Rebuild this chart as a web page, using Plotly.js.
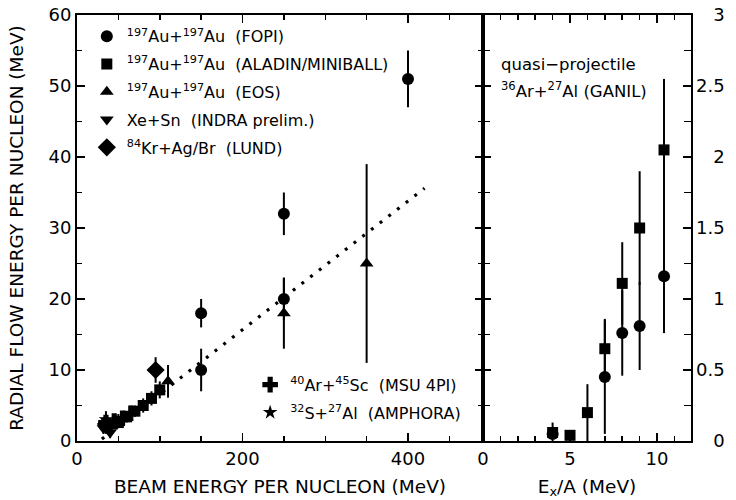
<!DOCTYPE html>
<html>
<head>
<meta charset="utf-8">
<script src="https://cdn.plot.ly/plotly-3.0.1.min.js"></script>
<style>html,body{margin:0;padding:0;background:#fff;}#chart{width:736px;height:500px;}</style>
</head>
<body>
<div id="chart"></div>
<script>
// ---- Left panel: radial flow energy vs beam energy ----
var fopiX = [150, 150, 250, 250, 400];
var fopiY = [10, 18, 20, 32, 51];
var fopiErr = [3, 2, 3, 3, 4];

var aladinX = [50, 60, 70, 80, 90, 100];
var aladinY = [2.6, 3.4, 4.2, 5.0, 6.0, 7.2];
var aladinErr = [0.8, 0.8, 0.8, 1.0, 1.0, 1.2];

var eosX = [110, 250, 350];
var eosY = [8.4, 18, 25];
var eosErr = [2.3, 5, 14];

var indraX = [32, 40, 45, 50];
var indraY = [1.8, 1.2, 2.6, 3.0];
var indraErr = [0.8, 0.8, 0.8, 0.8];

var lundX = [35, 95];
var lundY = [2.4, 10];
var lundErr = [1.0, 1.8];

var msuX = [35, 40, 45, 55, 65];
var msuY = [2.6, 2.0, 2.8, 3.2, 3.9];
var msuErr = [1.6, 1.2, 1.0, 0.8, 0.8];

var amphoraX = [35];
var amphoraY = [3.0];

var fitX = [30, 420];
var fitY = [0.27, 35.6];

// ---- Right panel: quasi-projectile 36Ar+27Al (GANIL) ----
var ganilCircX = [4, 7, 8, 9, 10.4];
var ganilCircY = [0.05, 0.45, 0.76, 0.81, 1.16];
var ganilCircErr = [0.08, 0.4, 0.3, 0.31, 0.4];

var ganilSqX = [4, 5, 6, 7, 8, 9, 10.4];
var ganilSqY = [0.06, 0.04, 0.2, 0.65, 1.11, 1.5, 2.05];
var ganilSqErr = [0, 0, 0.2, 0.21, 0.29, 0.4, 0.5];

var rightTickVals = [0, 0.5, 1, 1.5, 2, 2.5, 3];
var rightTickText = ['\u2007\u20080', '0.5', '\u2007\u20081', '1.5', '\u2007\u20082', '2.5', '\u2007\u20083'];

var FONT = 'DejaVu Sans, Arial, sans-serif';
var sp = '\u00a0\u00a0';

function eb(arr) {
  return {type: 'data', array: arr, visible: true, thickness: 2, width: 0, color: '#000'};
}
function mk(sym, size) {
  return {symbol: sym, size: size, color: '#000', line: {width: 0}};
}

var traces = [
  {x: fitX, y: fitY, mode: 'lines', line: {color: '#000', width: 3.2, dash: '3px,8px'}, showlegend: false, hoverinfo: 'skip'},
  {x: fopiX, y: fopiY, error_y: eb(fopiErr), mode: 'markers', marker: mk('circle', 12),
   name: '<sup>197</sup>Au+<sup>197</sup>Au' + sp + '(FOPI)', legendgroup: 'g1', legend: 'legend'},
  {x: aladinX, y: aladinY, error_y: eb(aladinErr), mode: 'markers', marker: mk('square', 11),
   name: '<sup>197</sup>Au+<sup>197</sup>Au' + sp + '(ALADIN/MINIBALL)', legendgroup: 'g2', legend: 'legend'},
  {x: eosX, y: eosY, error_y: eb(eosErr), mode: 'markers', marker: mk('triangle-up', 12),
   name: '<sup>197</sup>Au+<sup>197</sup>Au' + sp + '(EOS)', legendgroup: 'g3', legend: 'legend'},
  {x: indraX, y: indraY, error_y: eb(indraErr), mode: 'markers', marker: mk('triangle-down', 12),
   name: 'Xe+Sn' + sp + '(INDRA prelim.)', legendgroup: 'g4', legend: 'legend'},
  {x: lundX, y: lundY, error_y: eb(lundErr), mode: 'markers', marker: mk('diamond', 14),
   name: '<sup>84</sup>Kr+Ag/Br' + sp + '(LUND)', legendgroup: 'g5', legend: 'legend'},
  {x: msuX, y: msuY, error_y: eb(msuErr), mode: 'markers', marker: mk('cross', 13),
   name: '<sup>40</sup>Ar+<sup>45</sup>Sc' + sp + '(MSU 4PI)', legendgroup: 'h1', legend: 'legend2'},
  {x: amphoraX, y: amphoraY, mode: 'markers', marker: mk('star', 11),
   name: '<sup>32</sup>S+<sup>27</sup>Al' + sp + '(AMPHORA)', legendgroup: 'h2', legend: 'legend2'},
  {x: ganilCircX, y: ganilCircY, error_y: eb(ganilCircErr), mode: 'markers', marker: mk('circle', 12),
   xaxis: 'x2', yaxis: 'y2', showlegend: false},
  {x: ganilSqX, y: ganilSqY, error_y: eb(ganilSqErr), mode: 'markers', marker: mk('square', 11),
   xaxis: 'x2', yaxis: 'y2', showlegend: false}
];

var axBase = {
  showline: true, linecolor: '#000', linewidth: 2, mirror: 'ticks',
  ticks: 'inside', ticklen: 8, tickwidth: 1.5, tickcolor: '#000',
  showgrid: false, zeroline: false,
  tickfont: {family: FONT, size: 18, color: '#000'}
};

var legendBase = {
  font: {family: FONT, size: 16, color: '#000'},
  bgcolor: 'rgba(0,0,0,0)', borderwidth: 0,
  traceorder: 'grouped', tracegroupgap: 4,
  xanchor: 'left', yanchor: 'top'
};

var layout = {
  width: 736, height: 500,
  margin: {l: 77, r: 45, t: 15, b: 59},
  paper_bgcolor: '#fff', plot_bgcolor: '#fff',
  font: {family: FONT, color: '#000'},
  xaxis: Object.assign({}, axBase, {
    domain: [0, 0.6612], range: [0, 490.6], dtick: 200, tick0: 0,
    minor: {dtick: 50, ticks: 'inside', ticklen: 5, tickwidth: 1.5, tickcolor: '#000'},
    title: {text: 'BEAM ENERGY PER NUCLEON (MeV)', font: {family: FONT, size: 18.5, color: '#000'}, standoff: 12}
  }),
  yaxis: Object.assign({}, axBase, {
    range: [0, 60], dtick: 10, tick0: 0,
    minor: {dtick: 5, ticks: 'inside', ticklen: 5, tickwidth: 1.5, tickcolor: '#000'},
    title: {text: 'RADIAL FLOW ENERGY PER NUCLEON (MeV)', font: {family: FONT, size: 18.5, color: '#000'}, standoff: 20}
  }),
  xaxis2: Object.assign({}, axBase, {
    domain: [0.6612, 1], range: [0, 11.95], dtick: 5, tick0: 0, anchor: 'y2',
    minor: {dtick: 1, ticks: 'inside', ticklen: 5, tickwidth: 1.5, tickcolor: '#000'},
    title: {text: 'E<sub>x</sub>/A (MeV)', font: {family: FONT, size: 18.5, color: '#000'}, standoff: 12}
  }),
  yaxis2: Object.assign({}, axBase, {
    range: [0, 3], anchor: 'x2', side: 'right', linewidth: 1.5,
    tickmode: 'array', tickvals: rightTickVals, ticktext: rightTickText,
    minor: {dtick: 0.25, ticks: 'inside', ticklen: 7, tickwidth: 1.5, tickcolor: '#000'}
  }),
  legend: Object.assign({}, legendBase, {x: 0.016, y: 0.99}),
  legend2: Object.assign({}, legendBase, {x: 0.282, y: 0.172}),
  annotations: [
    {xref: 'paper', yref: 'paper', x: 0.687, y: 0.883, xanchor: 'left', yanchor: 'middle', showarrow: false,
     text: 'quasi\u2212projectile', font: {family: FONT, size: 16.5, color: '#000'}},
    {xref: 'paper', yref: 'paper', x: 0.687, y: 0.824, xanchor: 'left', yanchor: 'middle', showarrow: false,
     text: '<sup>36</sup>Ar+<sup>27</sup>Al (GANIL)', font: {family: FONT, size: 16.5, color: '#000'}}
  ],
  showlegend: true
};

Plotly.newPlot('chart', traces, layout, {displayModeBar: false, staticPlot: true});
</script>
</body>
</html>
